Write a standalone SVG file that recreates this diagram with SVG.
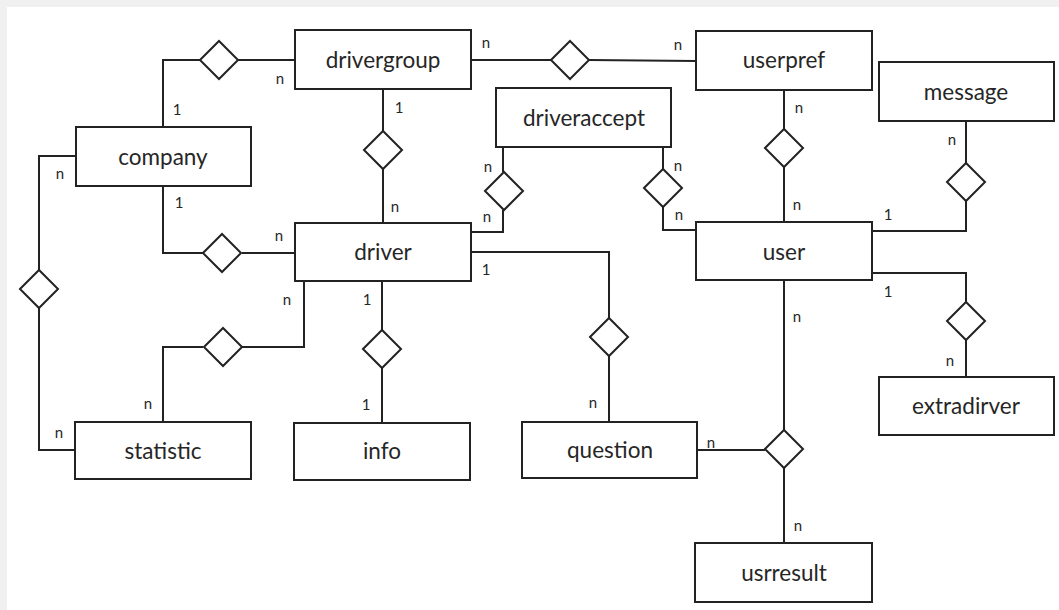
<svg xmlns="http://www.w3.org/2000/svg" width="1059" height="610" viewBox="0 0 1059 610">
<style>
.bx{fill:#fff;stroke:#222;stroke-width:2}
.dm{fill:#fff;stroke:#222;stroke-width:2}
.ln{fill:none;stroke:#222;stroke-width:2}
.t{font-family:Lato,"Liberation Sans",sans-serif;font-size:22.5px;fill:#262626;text-anchor:middle}
.c{font-family:Lato,"Liberation Sans",sans-serif;font-size:15px;fill:#262626;text-anchor:middle}
</style>
<rect x="0" y="0" width="1059" height="610" fill="#f0f0f0"/>
<rect x="7" y="7" width="1052" height="603" fill="#fff"/>
<g id="connectors">
<polyline class="ln" points="163,127 163,60 200,60"/><line class="ln" x1="238" y1="60" x2="295" y2="60"/>
<polyline class="ln" points="76,156 39,156 39,270"/><polyline class="ln" points="39,308 39,450 75,450"/>
<polyline class="ln" points="163,186 163,253 203,253"/><line class="ln" x1="242" y1="253" x2="295" y2="253"/>
<polyline class="ln" points="304,281 304,347 242,347"/><polyline class="ln" points="203,347 163,347 163,422"/>
<line class="ln" x1="471" y1="60" x2="551" y2="60"/><line class="ln" x1="589" y1="60" x2="696" y2="61"/>
<line class="ln" x1="383" y1="89" x2="383" y2="131"/><line class="ln" x1="383" y1="169" x2="383" y2="223"/>
<line class="ln" x1="503" y1="147" x2="503" y2="172"/><polyline class="ln" points="503,210 503,232 471,232"/>
<line class="ln" x1="663" y1="147" x2="663" y2="169"/><polyline class="ln" points="663,207 663,230 696,230"/>
<line class="ln" x1="784" y1="90" x2="784" y2="129"/><line class="ln" x1="784" y1="167" x2="784" y2="222"/>
<line class="ln" x1="966" y1="121" x2="966" y2="163"/><polyline class="ln" points="966,201 966,231 872,231"/>
<polyline class="ln" points="872,273 966,273 966,302"/><line class="ln" x1="966" y1="340" x2="966" y2="377"/>
<line class="ln" x1="784" y1="280" x2="784" y2="430"/><line class="ln" x1="784" y1="468" x2="784" y2="543"/>
<line class="ln" x1="697" y1="450" x2="765" y2="450"/>
<polyline class="ln" points="471,252 609,252 609,318"/><line class="ln" x1="609" y1="356" x2="609" y2="422"/>
<line class="ln" x1="382" y1="281" x2="382" y2="330"/><line class="ln" x1="382" y1="368" x2="382" y2="423"/>
<polygon class="dm" points="200,60 219,41 238,60 219,79"/>
<polygon class="dm" points="20,289 39,270 58,289 39,308"/>
<polygon class="dm" points="203,253 222,234 241,253 222,272"/>
<polygon class="dm" points="204,347 223,328 242,347 223,366"/>
<polygon class="dm" points="551,60 570,41 589,60 570,79"/>
<polygon class="dm" points="364,150 383,131 402,150 383,169"/>
<polygon class="dm" points="485,191 504,172 523,191 504,210"/>
<polygon class="dm" points="644,188 663,169 682,188 663,207"/>
<polygon class="dm" points="765,148 784,129 803,148 784,167"/>
<polygon class="dm" points="947,182 966,163 985,182 966,201"/>
<polygon class="dm" points="947,321 966,302 985,321 966,340"/>
<polygon class="dm" points="765,449 784,430 803,449 784,468"/>
<polygon class="dm" points="590,337 609,318 628,337 609,356"/>
<polygon class="dm" points="363,349 382,330 401,349 382,368"/>
<text class="c" x="177" y="115">1</text><text class="c" x="280" y="84">n</text>
<text class="c" x="60" y="179">n</text><text class="c" x="179" y="208">1</text>
<text class="c" x="279" y="241">n</text><text class="c" x="287" y="305">n</text>
<text class="c" x="148" y="409">n</text><text class="c" x="59" y="438">n</text>
<text class="c" x="486" y="48">n</text><text class="c" x="678" y="50">n</text>
<text class="c" x="399" y="113">1</text><text class="c" x="395" y="212">n</text>
<text class="c" x="488" y="172">n</text><text class="c" x="487" y="222">n</text>
<text class="c" x="678" y="171">n</text><text class="c" x="679" y="220">n</text>
<text class="c" x="799" y="113">n</text><text class="c" x="797" y="210">n</text>
<text class="c" x="952" y="145">n</text><text class="c" x="888" y="220">1</text>
<text class="c" x="888" y="297">1</text><text class="c" x="950" y="366">n</text>
<text class="c" x="797" y="322">n</text><text class="c" x="798" y="531">n</text>
<text class="c" x="711" y="448">n</text>
<text class="c" x="486" y="275">1</text><text class="c" x="593" y="408">n</text>
<text class="c" x="367" y="305">1</text><text class="c" x="366" y="410">1</text>
</g>
<g id="drivergroup"><rect class="bx" x="295" y="30" width="176" height="59"/><text class="t" x="383" y="68">drivergroup</text></g>
<g id="company"><rect class="bx" x="76" y="127" width="175" height="59"/><text class="t" x="163" y="165">company</text></g>
<g id="driver"><rect class="bx" x="295" y="223" width="176" height="58"/><text class="t" x="383" y="260">driver</text></g>
<g id="statistic"><rect class="bx" x="75" y="422" width="176" height="57"/><text class="t" x="163" y="459">statistic</text></g>
<g id="info"><rect class="bx" x="294" y="423" width="176" height="57"/><text class="t" x="382" y="459">info</text></g>
<g id="question"><rect class="bx" x="522" y="422" width="175" height="56"/><text class="t" x="610" y="458">question</text></g>
<g id="driveraccept"><rect class="bx" x="496" y="88" width="175" height="59"/><text class="t" x="584" y="126">driveraccept</text></g>
<g id="userpref"><rect class="bx" x="696" y="31" width="176" height="59"/><text class="t" x="784" y="68">userpref</text></g>
<g id="message"><rect class="bx" x="879" y="62" width="175" height="59"/><text class="t" x="966" y="100">message</text></g>
<g id="user"><rect class="bx" x="696" y="222" width="176" height="58"/><text class="t" x="784" y="260">user</text></g>
<g id="extradirver"><rect class="bx" x="879" y="377" width="175" height="58"/><text class="t" x="966" y="414">extradirver</text></g>
<g id="usrresult"><rect class="bx" x="695" y="543" width="177" height="59"/><text class="t" x="784" y="581">usrresult</text></g>
</svg>
